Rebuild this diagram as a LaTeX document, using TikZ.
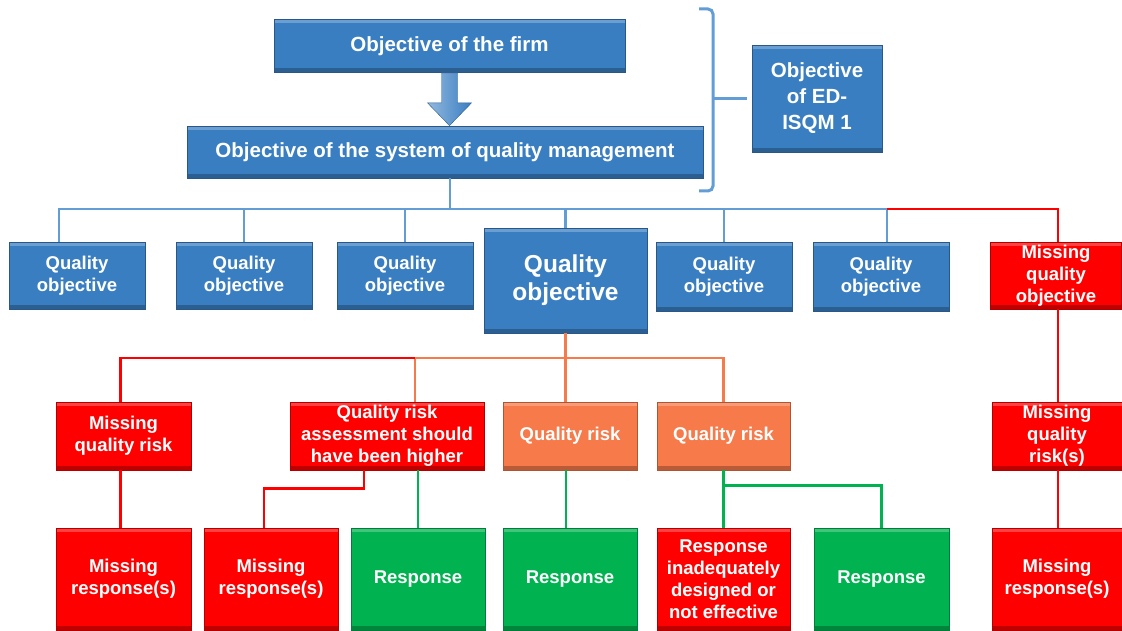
\documentclass[tikz,border=0pt]{standalone}
\usepackage{fontspec}
\setmainfont{Liberation Sans}
\usetikzlibrary{positioning}
\usetikzlibrary{calc}
\definecolor{boxblue}{RGB}{58,126,194}
\definecolor{lineblue}{RGB}{98,157,214}
\definecolor{boxred}{RGB}{254,0,0}
\definecolor{boxorange}{RGB}{247,122,74}
\definecolor{boxgreen}{RGB}{0,178,80}
\tikzset{
chartbox/.style={ % Sets the properties for each box
rectangle,
inner sep=0pt,
align=center,
text=white,
line width=0.8pt,
font=\bfseries\fontsize{18.5}{22}\selectfont,
path picture={ % bevel: light top edge, dark bottom edge
\fill[white, opacity=0.25] (path picture bounding box.north west) rectangle ([yshift=-4pt]path picture bounding box.north east);
\fill[black, opacity=0.25] (path picture bounding box.south west) rectangle ([yshift=4pt]path picture bounding box.south east);}},
bluebox/.style={chartbox, fill=boxblue, draw=boxblue!70!black},
redbox/.style={chartbox, fill=boxred, draw=boxred!70!black},
orangebox/.style={chartbox, fill=boxorange, draw=boxorange!70!black},
greenbox/.style={chartbox, fill=boxgreen, draw=boxgreen!70!black},
objsize/.style={minimum width=136, minimum height=67},
risksize/.style={minimum width=134, minimum height=68},
respsize/.style={minimum width=134, minimum height=102},
bigfont/.style={font=\bfseries\fontsize{20.5}{26}\selectfont},
link/.style={line width=2.8pt} % Sets the properties for each connector
}

\begin{document}
\begin{tikzpicture}[x=1pt, y=-1pt]
\useasboundingbox (0,0) rectangle (1122,631);
\node[bluebox, bigfont, minimum width=351, minimum height=53] (firm) at (449.5,46) {Objective of the firm};
\node[bluebox, bigfont, minimum width=516, minimum height=52] (qms) at (445,152) {Objective of the system of quality management};
\node[bluebox, bigfont, minimum width=130, minimum height=107] (isqm) at (817,98.5) {Objective\\of ED-\\ISQM 1};
% quality objectives
\node[bluebox, objsize] (qo1) at (77,275.5) {Quality\\objective};
\node[bluebox, objsize] (qo2) at (244,275.5) {Quality\\objective};
\node[bluebox, objsize] (qo3) at (405,275.5) {Quality\\objective};
\node[bluebox, minimum width=163, minimum height=105, font=\bfseries\fontsize{24.5}{28}\selectfont] (qo4) at (565.5,280.5) {Quality\\objective};
\node[bluebox, objsize, minimum height=69] (qo5) at (724,276.5) {Quality\\objective};
\node[bluebox, objsize, minimum height=69] (qo6) at (881,276.5) {Quality\\objective};
\node[redbox, objsize, minimum width=131] (mqo) at (1056,275.5) {Missing\\quality\\objective};
% quality risks
\node[redbox, risksize, minimum width=135] (mqr) at (123.5,436) {Missing\\quality risk};
\node[redbox, risksize, minimum width=194] (qra) at (387,436) {Quality risk\\assessment should\\have been higher};
\node[orangebox, risksize] (qr1) at (570,436) {Quality risk};
\node[orangebox, risksize, minimum width=133] (qr2) at (723.5,436) {Quality risk};
\node[redbox, risksize, minimum width=130] (mqrs) at (1057,436) {Missing\\quality\\risk(s)};
% responses
\node[redbox, respsize, minimum width=135] (mr1) at (123.5,579) {Missing\\response(s)};
\node[redbox, respsize] (mr2) at (271,579) {Missing\\response(s)};
\node[greenbox, respsize] (resp1) at (418,579) {Response};
\node[greenbox, respsize] (resp2) at (570,579) {Response};
\node[redbox, respsize, minimum width=133] (rid) at (723.5,579) {Response\\inadequately\\designed or\\not effective};
\node[greenbox, respsize, minimum width=135] (resp3) at (881.5,579) {Response};
\node[redbox, respsize, minimum width=130] (mr3) at (1057,579) {Missing\\response(s)};
% block arrow and bracket
\shadedraw[left color=boxblue!55!white, right color=boxblue, draw=boxblue!75!black]
  ($(firm.south)+(-8,0)$) -- ($(firm.south)+(8,0)$) -- ($(firm.south)+(8,30)$)
  -- ($(firm.south)+(22,30)$) -- (firm.south |- qms.north) -- ($(firm.south)+(-22,30)$)
  -- ($(firm.south)+(-8,30)$) -- cycle;
\coordinate (brtop) at (699,9);
\coordinate (brbot) at (699,191);
\coordinate (brx) at (713,0);
\draw[lineblue, line width=3pt, rounded corners=5] (brtop) -- (brtop -| brx) -- (brbot -| brx) -- (brbot);
\draw[lineblue, line width=3pt] (brx |- isqm.west) -- ([xshift=-5]isqm.west);
% connectors
\coordinate (bus) at (0,209);
\coordinate (bustwo) at (0,358);
\draw[link, lineblue] ([xshift=5]qms.south) -- ([xshift=5]qms.south |- bus);
\draw[link, lineblue] ([xshift=-18]qo1.north) |- ([xshift=6]qo6.north |- bus) -- ([xshift=6]qo6.north);
\foreach \n in {qo2,qo3,qo4,qo5}
  \draw[link, lineblue] (\n.north) -- (\n.north |- bus);
\draw[link, boxred] ([xshift=6]qo6.north |- bus) -| ([xshift=2]mqo.north);
\draw[link, boxorange] (qo4.south) -- (qo4.south |- qr1.north);
\draw[link, boxorange] ([xshift=28]qra.north) |- (qr2.north |- bustwo) -- (qr2.north);
\draw[link, boxred] ([xshift=28]qra.north |- bustwo) -| ([xshift=-3]mqr.north);
\draw[link, boxred] ([xshift=-3]mqr.south) -- ([xshift=-3]mr1.north);
\draw[link, boxred] ([xshift=-23]qra.south) -- ($([xshift=-23]qra.south)+(0,18)$) -| ([xshift=-7]mr2.north);
\draw[link, boxgreen] (resp1.north |- qra.south) -- (resp1.north);
\draw[link, boxgreen] ([xshift=-4]qr1.south) -- ([xshift=-4]resp2.north);
\draw[link, boxgreen] (qr2.south) -- (rid.north);
\draw[link, boxgreen] ($(qr2.south)+(0,15)$) -| (resp3.north);
\draw[link, boxred] ([xshift=2]mqo.south) -- ([xshift=1]mqrs.north);
\draw[link, boxred] ([xshift=1]mqrs.south) -- ([xshift=1]mr3.north);
\end{tikzpicture}
\end{document}
